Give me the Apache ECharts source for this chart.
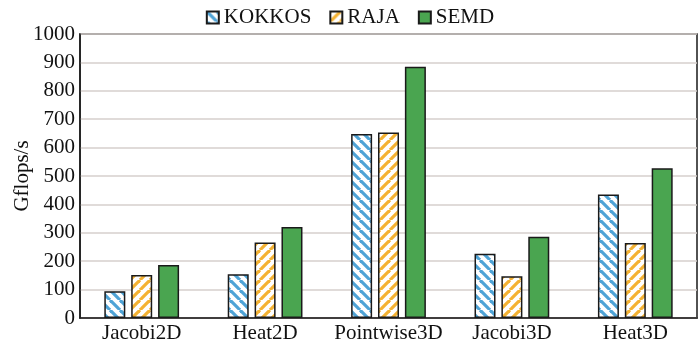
<!DOCTYPE html>
<html><head><meta charset="utf-8">
<script src="https://cdn.jsdelivr.net/npm/echarts@6/dist/echarts.min.js"></script>
<style>html,body{margin:0;padding:0;background:#fff}#c{width:700px;height:349px}</style>
</head><body><div id="c"></div>
<script>
const categories = ['Jacobi2D', 'Heat2D', 'Pointwise3D', 'Jacobi3D', 'Heat3D'];
const kokkos = [94, 154, 648, 226, 435];
const raja = [151, 266, 653, 147, 264];
const semd = [187, 320, 885, 286, 527];
const yTicks = [0, 100, 200, 300, 400, 500, 600, 700, 800, 900, 1000];
const yTitle = 'Gflops/s';

function stripe(color, dir) {
  const s = 10;
  const c = document.createElement('canvas');
  c.width = s; c.height = s;
  const g = c.getContext('2d');
  g.fillStyle = '#fff'; g.fillRect(0, 0, s, s);
  g.strokeStyle = color; g.lineWidth = 3.2;
  for (let k = -1; k <= 1; k++) {
    g.beginPath();
    if (dir === 'back') { g.moveTo(k * s, 0); g.lineTo(k * s + s, s); }
    else { g.moveTo(k * s, s); g.lineTo(k * s + s, 0); }
    g.stroke();
  }
  return { image: c, repeat: 'repeat' };
}

const font = 'Liberation Serif';
const fs = 21;
const chart = echarts.init(document.getElementById('c'));
const border = { borderColor: '#1a1a1a', borderWidth: 1.5 };
chart.setOption({
  animation: false,
  textStyle: { fontFamily: font },
  legend: {
    top: 2, left: 'center', itemWidth: 12, itemHeight: 12, itemGap: 18, icon: 'rect',
    textStyle: { fontFamily: font, fontSize: fs, color: '#111' },
    data: ['KOKKOS', 'RAJA', 'SEMD']
  },
  graphic: [{
    type: 'text', x: 22, y: 176, rotation: Math.PI / 2,
    style: { text: yTitle, fontFamily: font, fontSize: fs, fill: '#111', align: 'center', verticalAlign: 'middle' }
  }],
  grid: { left: 80, right: 3, top: 34, bottom: 31, show: true, borderColor: '#1a1a1a', borderWidth: 1.5,
          containLabel: false, outerBoundsMode: 'none' },
  xAxis: {
    type: 'category', data: categories,
    axisLine: { lineStyle: { color: '#1a1a1a', width: 1.5 } },
    axisTick: { show: false },
    axisLabel: { fontFamily: font, fontSize: fs, color: '#111', margin: 5, interval: 0 }
  },
  yAxis: {
    type: 'value', min: yTicks[0], max: yTicks[yTicks.length - 1], interval: 100,
    axisLine: { show: true, lineStyle: { color: '#1a1a1a', width: 1.5 } },
    axisTick: { show: false },
    splitLine: { lineStyle: { color: '#d6cfcc', width: 1.5 } },
    axisLabel: { fontFamily: font, fontSize: fs, color: '#111', margin: 5, formatter: v => String(v) }
  },
  series: [
    { name: 'KOKKOS', type: 'bar', data: kokkos, barWidth: 21, barGap: '28%',
      itemStyle: Object.assign({ color: stripe('#4fa3d6', 'back') }, border) },
    { name: 'RAJA', type: 'bar', data: raja, barWidth: 21, barGap: '28%',
      itemStyle: Object.assign({ color: stripe('#f4b233', 'fwd') }, border) },
    { name: 'SEMD', type: 'bar', data: semd, barWidth: 21, barGap: '28%',
      itemStyle: Object.assign({ color: '#4aa550' }, border) }
  ]
});
</script></body></html>
